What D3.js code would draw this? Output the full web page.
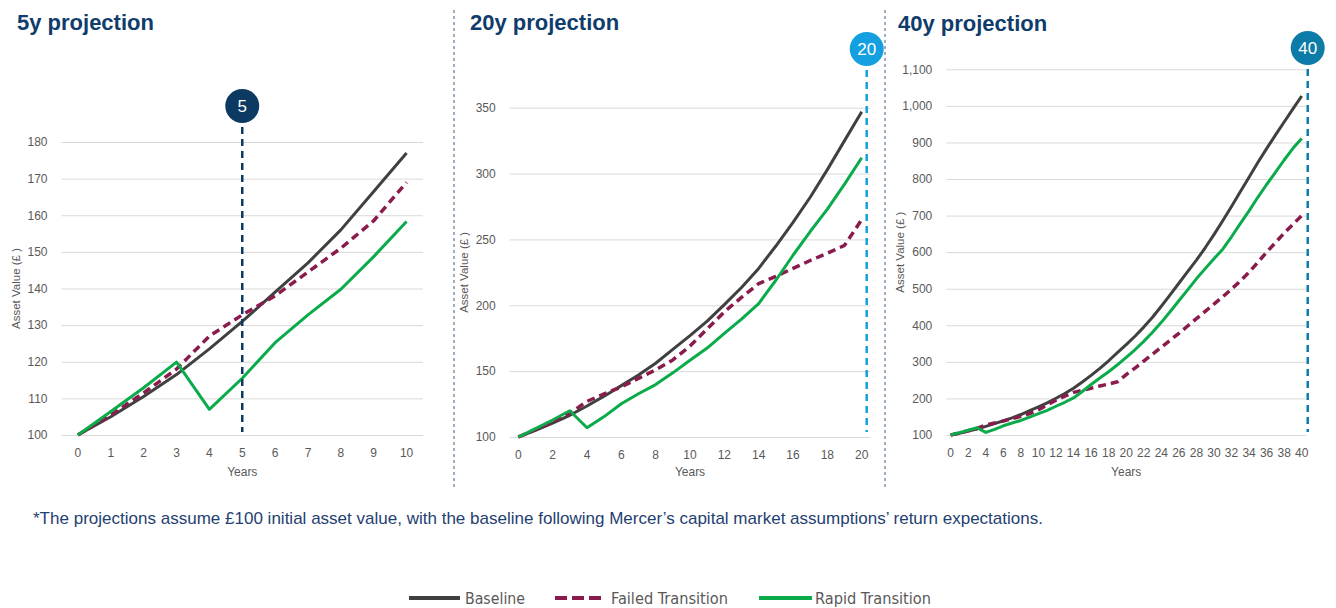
<!DOCTYPE html>
<html>
<head>
<meta charset="utf-8">
<script src="https://cdn.jsdelivr.net/npm/d3@7"></script>
<style>
  html, body { margin: 0; padding: 0; background: #ffffff; }
  svg { display: block; }
</style>
</head>
<body>
<svg id="chart" width="1336" height="608"></svg>
<script>
// Projection years (category axis) and asset values per scenario (£, starting at £100)
const years = [0, 1, 2, 3, 4, 5, 6, 7, 8, 9, 10, 11, 12, 13, 14, 15, 16, 17, 18, 19, 20,
               21, 22, 23, 24, 25, 26, 27, 28, 29, 30, 31, 32, 33, 34, 35, 36, 37, 38, 39, 40];

const baseline = [100, 105, 110.5, 116.5, 123.5, 131, 139, 147, 156, 166.5, 177,
                  188, 200.5, 213.5, 228, 245, 263, 282, 303, 325, 347,
                  370, 395, 422, 452, 483, 515, 547, 578, 612, 648,
                  686, 725, 765, 805, 845, 883, 920, 956, 992, 1027];

const failedTransition = [100, 105.5, 111.5, 118, 127, 132.8, 138, 144.5, 151, 158.5, 169,
                          182, 195, 206, 216.5, 222, 228, 234, 239.5, 245.5, 265,
                          283, 302, 321, 340, 359, 378, 398, 418, 438, 458,
                          478, 499, 521, 545, 572, 600, 626, 652, 676, 700];

const rapidTransition = [100, 106.4, 112.9, 119.9, 107, 115.5, 125.2, 132.8, 139.8, 148.7, 158.3,
                         167.5, 178.6, 189.5, 201.3, 219, 238, 256, 273, 292, 312,
                         333, 356, 381, 408, 437, 467, 497, 527, 555, 582,
                         608, 642, 678, 713, 750, 785, 818, 852, 884, 911];

// Panel definitions
const panelTitles = ["5y projection", "20y projection", "40y projection"];
const panelLastYear = [10, 20, 40];
const panelHorizon = [5, 20, 40];
const panelYMax = [180, 350, 1100];
const panelYStep = [10, 50, 100];
const panelXLabelEvery = [1, 2, 2];

const seriesNames = ["Baseline", "Failed Transition", "Rapid Transition"];
const seriesValues = [baseline, failedTransition, rapidTransition];

// Styling / layout
const seriesStyle = [
  { color: "#404040", width: 3, dash: null },
  { color: "#8a1b4d", width: 3.5, dash: "8,5" },
  { color: "#0bab4b", width: 3, dash: null }
];
const layout = [
  { left: 61.5, right: 423, top: 142, bottom: 435, titleX: 17, titleY: 30, badgeY: 106, markerShift: 0, markerColor: "#0c3a63" },
  { left: 509.7, right: 870.3, top: 107.7, bottom: 437, titleX: 470, titleY: 30, badgeY: 49, markerShift: 5, markerColor: "#14a0e0" },
  { left: 946.3, right: 1306.1, top: 69.3, bottom: 435, titleX: 898, titleY: 31, badgeY: 48, markerShift: 6, markerColor: "#0c7ba7" }
];

const svg = d3.select("#chart");
const tickColor = "#595959";
const gridColor = "#d9d9d9";
const fontMain = "'Liberation Sans', Arial, sans-serif";

panelTitles.forEach((title, i) => {
  const L = layout[i];
  const yrs = years.filter(y => y <= panelLastYear[i]);
  const g = svg.append("g");

  const x = d3.scaleBand().domain(yrs).range([L.left, L.right]).paddingInner(0).paddingOuter(0);
  const xc = d => x(d) + x.bandwidth() / 2;
  const y = d3.scaleLinear().domain([100, panelYMax[i]]).range([L.bottom, L.top]);
  const yTicks = d3.range(100, panelYMax[i] + 0.001, panelYStep[i]);

  // Title
  g.append("text")
    .attr("x", L.titleX).attr("y", L.titleY)
    .attr("font-family", fontMain).attr("font-size", 22).attr("font-weight", "bold")
    .attr("fill", "#0f3c6b")
    .text(title);

  // Gridlines + y axis labels
  const yAxis = d3.axisLeft(y).tickValues(yTicks).tickSize(-(L.right - L.left)).tickPadding(14)
    .tickFormat(d3.format(","));
  const ya = g.append("g").attr("transform", `translate(${L.left},0)`).call(yAxis);
  ya.select(".domain").remove();
  ya.selectAll(".tick line").attr("stroke", gridColor).attr("stroke-width", 1);
  ya.selectAll(".tick text").attr("fill", tickColor).attr("font-size", 12).attr("font-family", fontMain);

  // x axis labels
  const xAxis = d3.axisBottom(x).tickSize(0).tickPadding(13)
    .tickValues(yrs.filter(v => v % panelXLabelEvery[i] === 0));
  const xa = g.append("g").attr("transform", `translate(0,${L.bottom})`).call(xAxis);
  xa.select(".domain").remove();
  xa.selectAll(".tick text").attr("fill", tickColor).attr("font-size", 12).attr("font-family", fontMain);

  // Axis titles
  g.append("text")
    .attr("x", (L.left + L.right) / 2).attr("y", 476)
    .attr("text-anchor", "middle")
    .attr("font-family", fontMain).attr("font-size", 12).attr("fill", tickColor)
    .text("Years");
  const ymid = (L.top + L.bottom) / 2;
  g.append("text")
    .attr("transform", `translate(${L.left - 42},${ymid}) rotate(-90)`)
    .attr("text-anchor", "middle")
    .attr("font-family", fontMain).attr("font-size", 11.5).attr("fill", tickColor)
    .text("Asset Value (£ )");

  // Series lines
  const line = d3.line().x(d => xc(d[0])).y(d => y(d[1]));
  seriesValues.forEach((vals, s) => {
    const pts = yrs.map(yr => [yr, vals[yr]]);
    const st = seriesStyle[s];
    g.append("path")
      .datum(pts)
      .attr("d", line)
      .attr("fill", "none")
      .attr("stroke", st.color)
      .attr("stroke-width", st.width)
      .attr("stroke-linejoin", "round")
      .attr("stroke-dasharray", st.dash);
  });

  // Horizon marker: dashed vertical line with numbered badge
  const mx = xc(panelHorizon[i]) + L.markerShift;
  g.append("line")
    .attr("x1", mx).attr("x2", mx)
    .attr("y1", L.badgeY + 21).attr("y2", 432)
    .attr("stroke", L.markerColor).attr("stroke-width", 2.5)
    .attr("stroke-dasharray", "7,5");
  g.append("circle")
    .attr("cx", mx).attr("cy", L.badgeY).attr("r", 17)
    .attr("fill", L.markerColor);
  g.append("text")
    .attr("x", mx).attr("y", L.badgeY + 6)
    .attr("text-anchor", "middle")
    .attr("font-family", fontMain).attr("font-size", 17)
    .attr("fill", "#ffffff")
    .text(panelHorizon[i]);
});

// Dotted separators between panels
[454, 885].forEach(sx => {
  svg.append("line")
    .attr("x1", sx).attr("x2", sx).attr("y1", 10).attr("y2", 489)
    .attr("stroke", "#7d94b0").attr("stroke-width", 1.5)
    .attr("stroke-dasharray", "3,3");
});

// Footnote
svg.append("text")
  .attr("x", 33).attr("y", 524)
  .attr("font-family", "'Liberation Sans Narrow', 'Arial Narrow', 'Liberation Sans', sans-serif")
  .attr("font-size", 17)
  .attr("fill", "#1f4171")
  .attr("textLength", 1010).attr("lengthAdjust", "spacingAndGlyphs")
  .text("*The projections assume £100 initial asset value, with the baseline following Mercer’s capital market assumptions’ return expectations.");

// Legend
const legendItems = [
  { lx1: 409, lx2: 460, tx: 465, tw: 60 },
  { lx1: 555, lx2: 604, tx: 611, tw: 117 },
  { lx1: 759, lx2: 812, tx: 815, tw: 116 }
];
const legendFont = "'Liberation Sans Narrow', 'DejaVu Sans Condensed', sans-serif";
seriesNames.forEach((name, s) => {
  const it = legendItems[s];
  const st = seriesStyle[s];
  svg.append("line")
    .attr("x1", it.lx1).attr("x2", it.lx2).attr("y1", 598).attr("y2", 598)
    .attr("stroke", st.color).attr("stroke-width", 4)
    .attr("stroke-dasharray", st.dash ? "12,5" : null);
  svg.append("text")
    .attr("x", it.tx).attr("y", 603.5)
    .attr("font-family", legendFont).attr("font-size", 16)
    .attr("fill", "#595959")
    .attr("textLength", it.tw).attr("lengthAdjust", "spacingAndGlyphs")
    .text(name);
});
</script>
</body>
</html>
